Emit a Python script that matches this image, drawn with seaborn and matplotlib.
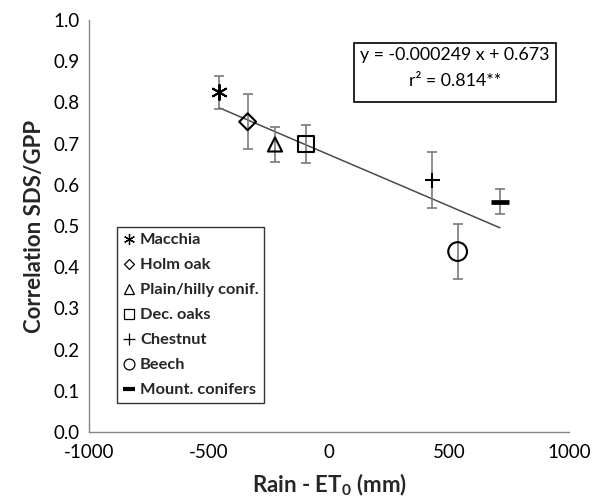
import matplotlib
matplotlib.use("Agg")
import matplotlib.pyplot as plt
from matplotlib.lines import Line2D
from matplotlib.patches import Rectangle
import seaborn as sns

# ---- data ----
species = ['Macchia', 'Holm oak', 'Plain/hilly conif.', 'Dec. oaks',
           'Chestnut', 'Beech', 'Mount. conifers']
rain_et0 = [-458, -339, -225, -96, 429, 536, 712]
corr = [0.825, 0.753, 0.698, 0.699, 0.612, 0.438, 0.559]
corr_err = [0.040, 0.067, 0.042, 0.045, 0.068, 0.066, 0.031]
slope = -0.000249
intercept = 0.673
eq_text = "y = -0.000249 x + 0.673"
r2_text = "r\u00b2 = 0.814**"
x_ticks = [-1000, -500, 0, 500, 1000]
y_ticks = [0.0, 0.1, 0.2, 0.3, 0.4, 0.5, 0.6, 0.7, 0.8, 0.9, 1.0]

sns.set_style("white")
plt.rcParams['font.family'] = ['Lato', 'DejaVu Sans']
plt.rcParams['mathtext.fontset'] = 'custom'
plt.rcParams['mathtext.rm'] = 'Lato'
plt.rcParams['mathtext.bf'] = 'Lato:bold'

# marker, size(pt), edge width(pt), filled
mstyle = {
    'Macchia': ((6, 2, 0), 11.0, 1.4, False),
    'Holm oak': ('D', 8.6, 1.5, True),
    'Plain/hilly conif.': ('^', 10.2, 1.5, True),
    'Dec. oaks': ('s', 11.0, 1.5, True),
    'Chestnut': ('+', 10.8, 1.5, False),
    'Beech': ('o', 13.5, 1.5, True),
    'Mount. conifers': ('_', 13.5, 3.4, False),
}
leg_size = {
    'Macchia': 8.0, 'Holm oak': 5.6, 'Plain/hilly conif.': 7.8,
    'Dec. oaks': 7.8, 'Chestnut': 8.0, 'Beech': 7.8, 'Mount. conifers': 8.0,
}

W, H = 602, 497
fig = plt.figure(figsize=(W / 100, H / 100), dpi=100)
L, R, T, B = 89, 569, 20, 432
ax = fig.add_axes([L / W, 1 - B / H, (R - L) / W, (B - T) / H])

# error bars
ax.errorbar(rain_et0, corr, yerr=corr_err, fmt='none', ecolor='#7a7a7a',
            elinewidth=1.2, capsize=3.6, capthick=1.2, zorder=2)

# regression line
x_line = [min(rain_et0), max(rain_et0)]
y_line = [intercept + slope * v for v in x_line]
sns.lineplot(x=x_line, y=y_line, color='#4a4a4a', linewidth=1.1, ax=ax, zorder=1)

# markers
for sp, xv, yv in zip(species, rain_et0, corr):
    m, ms, lw, filled = mstyle[sp]
    kw = dict(marker=m, s=ms ** 2, linewidth=lw, color='black', ax=ax, zorder=3)
    if filled:
        kw.update(facecolor='none', edgecolor='black')
    sns.scatterplot(x=[xv], y=[yv], **kw)

ax.set_xlim(-1000, 1000)
ax.set_ylim(0, 1.0)
ax.set_xticks(x_ticks)
ax.set_xticklabels([str(v) for v in x_ticks])
ax.set_yticks(y_ticks)
ax.set_yticklabels([f"{v:.1f}" for v in y_ticks])
ax.tick_params(axis='both', direction='out', length=4.5, width=1, color='#868686',
               labelsize=13.5, labelcolor='black', pad=2.5)
ax.tick_params(axis='x', pad=4)
for s in ['top', 'right']:
    ax.spines[s].set_visible(False)
for s in ['left', 'bottom']:
    ax.spines[s].set_color('#868686')
    ax.spines[s].set_linewidth(1)

ax.set_xlabel(r'Rain - ET$_\mathbf{0}$ (mm)', fontsize=16, fontweight='bold', labelpad=8)
ax.set_ylabel('Correlation SDS/GPP', fontsize=16, fontweight='bold', labelpad=6)

# equation box
bx0, bx1, by0, by1 = 354, 556, 43, 102
ax.add_patch(Rectangle(((bx0 - L) / (R - L), (B - by1) / (B - T)),
                       (bx1 - bx0) / (R - L), (by1 - by0) / (B - T),
                       transform=ax.transAxes, fill=False, edgecolor='black',
                       linewidth=1.2, zorder=4, clip_on=False))
cx = ((bx0 + bx1) / 2 - L) / (R - L)
ax.text(cx, (B - 55) / (B - T), eq_text, transform=ax.transAxes, ha='center',
        va='center', fontsize=12.8, color='black')
ax.text(cx, (B - 81) / (B - T), r2_text, transform=ax.transAxes, ha='center',
        va='center', fontsize=12.8, color='black')

# legend
handles = []
for sp in species:
    m, ms, lw, filled = mstyle[sp]
    handles.append(Line2D([], [], ls='none', marker=m, markersize=leg_size[sp],
                          markerfacecolor='none', markeredgecolor='black',
                          color='black',
                          markeredgewidth=(3.0 if sp == 'Mount. conifers' else 0.9)))
leg = ax.legend(handles, species, loc='lower left',
                bbox_to_anchor=((117 - L) / (R - L), (B - 403) / (B - T)),
                borderaxespad=0, frameon=True, fancybox=False,
                prop={'size': 11.8, 'weight': 'bold'}, labelspacing=0.64,
                handlelength=0.75, handletextpad=0.3, borderpad=0.35)
leg.get_frame().set_edgecolor('black')
leg.get_frame().set_linewidth(1.0)

fig.savefig('out.png', dpi=100)
